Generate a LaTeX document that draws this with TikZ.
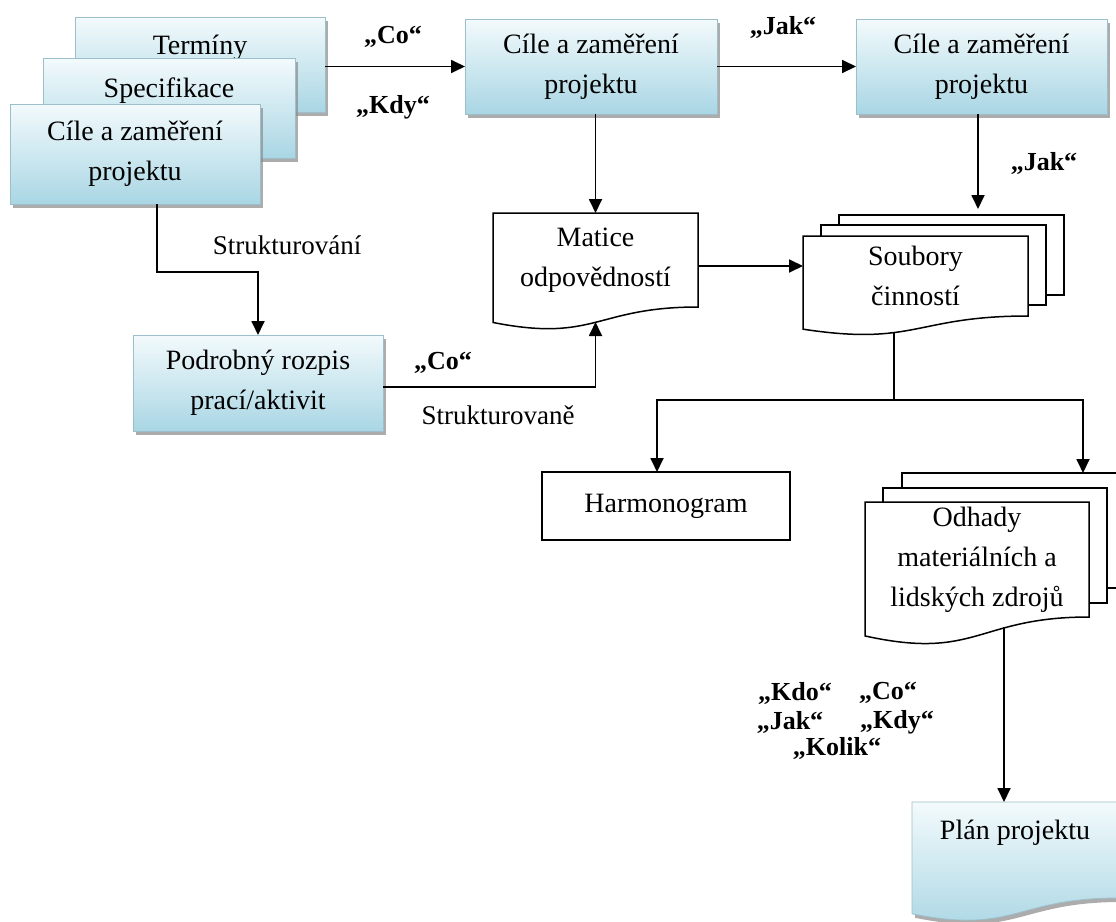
\documentclass[tikz,border=0pt]{standalone}
\usepackage{fontspec}
\setmainfont{Liberation Serif}
\usetikzlibrary{arrows.meta,calc,shadows}
\pgfdeclarelayer{bg}
\pgfsetlayers{bg,main}

\definecolor{gtop}{HTML}{F3FAFC}
\definecolor{gbot}{HTML}{A9D6E4}
\definecolor{gline}{HTML}{9DBFCB}
\definecolor{shad}{HTML}{8A8A8A}

\tikzset{
  every node/.style={inner sep=0pt, outer sep=0pt},
  txt/.style={font=\fontsize{28}{40}\selectfont, align=center},
  lbl/.style={font=\fontsize{27}{32}\selectfont},
  qlbl/.style={font=\fontsize{26}{32}\selectfont\bfseries},
  gshadow/.style={drop shadow={shadow xshift=3pt, shadow yshift=-4pt, fill=shad, opacity=0.7}},
  gbox/.style={txt, rectangle, draw=gline, line width=0.8pt, top color=gtop, bottom color=gbot, gshadow},
  wbox/.style={txt, rectangle, draw=black, line width=1.5pt, fill=white},
  sheet/.style={draw=black, line width=1.5pt, fill=white},
  frame/.style={txt, rectangle, draw=none},
  conn/.style={line width=1.8pt, draw=black},
  arr/.style={conn, -{Triangle[length=14pt, width=13pt]}},
}

\newcommand\docpath[2][]{\begin{pgfonlayer}{bg}\path[#1] (#2.north west) -- (#2.north east) -- (#2.south east) .. controls (#2.south) and ($(#2.north)!1.38!(#2.south)$) .. ($(#2.north west)!1.1646!(#2.south west)$) -- cycle;\end{pgfonlayer}}
\newcommand\sheetpath[1]{\begin{pgfonlayer}{bg}\path[sheet] (#1.north west) rectangle (#1.south east);\end{pgfonlayer}}

\begin{document}
\begin{tikzpicture}[x=1pt, y=-1pt]
\begin{pgfonlayer}{bg}
\fill[white] (0,0) rectangle (1116,921);
\end{pgfonlayer}
\useasboundingbox (0,0) rectangle (1116,921);

% stacked boxes top-left
\node[gbox, minimum width=250, minimum height=95] (term) at (200,64.5) {Termíny\\\mbox{}};
\node[gbox, minimum width=252, minimum height=100] (spec) at (169,108) {Specifikace\\\mbox{}};
\node[gbox, minimum width=250, minimum height=100] (cil1) at (135,154) {Cíle a zaměření\\projektu};

% top row
\node[gbox, minimum width=252, minimum height=95] (cil2) at (591,66.5) {Cíle a zaměření\\projektu};
\node[gbox, minimum width=251, minimum height=95] (cil3) at (981.5,66.5) {Cíle a zaměření\\projektu};

% Podrobny rozpis
\node[gbox, minimum width=250, minimum height=96] (podr) at (258,383) {Podrobný rozpis\\prací/aktivit};

% Matice (document)
\node[frame, minimum width=205, minimum height=94] (mat) at (595.5,260) {Matice\\odpovědností};
\docpath[sheet]{mat}

% Soubory (multi-document)
\node[frame, minimum width=225, minimum height=80] (soub3) at (951.5,255) {};
\node[frame, minimum width=225, minimum height=80] (soub2) at (933.5,265) {};
\node[frame, minimum width=225, minimum height=80] (soub) at (915.5,276) {Soubory\\činností};
\sheetpath{soub3}
\sheetpath{soub2}
\docpath[sheet]{soub}

% Harmonogram
\node[wbox, minimum width=248, minimum height=68] (harm) at (666,506) {Harmonogram};

% Odhady (multi-document)
\node[frame, minimum width=224, minimum height=115] (odh3) at (1014,530.5) {};
\node[frame, minimum width=224, minimum height=115] (odh2) at (995,545.5) {};
\node[frame, minimum width=224, minimum height=115] (odh) at (977,559.5) {Odhady\\materiálních a\\lidských zdrojů};
\sheetpath{odh3}
\sheetpath{odh2}
\docpath[sheet]{odh}

% Plan projektu (document, gradient)
\node[frame, minimum width=206, minimum height=96] (plan) at (1015,850) {Plán projektu\\\mbox{}};
\docpath[draw=gline, line width=0.8pt, top color=gtop, bottom color=gbot, gshadow]{plan}

% connector coordinates
\coordinate (cs) at ($(cil1.south)+(22,0)$);
\coordinate (matb) at ($(mat.south)+(0,15)$);
\coordinate (ms) at (698,266);
\coordinate (sb) at (894,332);
\coordinate (br) at (894,400);
\coordinate (harmin) at (657,472);
\coordinate (odhin) at (1083,473);
\coordinate (ob) at (1004,627);
\coordinate (c3) at (978,114);

% connectors
\draw[arr] (term.east |- cil2.west) -- (cil2.west);
\draw[arr] (cil2.east) -- (cil3.west);
\draw[arr] (cil2.south -| mat.north) -- (mat.north);
\draw[arr, shorten >=6pt] (c3) -- (c3 |- soub3.north);
\draw[arr] (ms) -- (ms -| soub.west);
\draw[arr] (cs) -- ++(0,68) -| (podr.north);
\draw[arr] (podr.east) ++(0,4) -| (matb);
\draw[conn] (sb) -- (br);
\draw[arr] (br) -| (harmin);
\draw[arr] (br) -| (odhin);
\draw[arr] (ob) -- (ob |- plan.north);

% labels
\node[qlbl] (l1) at (393,37) {„Co“};
\node[qlbl] (l2) at (393,107) {„Kdy“};
\node[qlbl] (l3) at (783,27) {„Jak“};
\node[qlbl] (l4) at (1044,163) {„Jak“};
\node[lbl] (l5) at (287,245) {Strukturování};
\node[qlbl] (l6) at (443,363) {„Co“};
\node[lbl] (l7) at (498,415) {Strukturovaně};
\node[qlbl] (l8) at (795,693) {„Kdo“};
\node[qlbl] (l9) at (888,693) {„Co“};
\node[qlbl] (l10) at (790,722) {„Jak“};
\node[qlbl] (l11) at (897,722) {„Kdy“};
\node[qlbl] (l12) at (837,748) {„Kolik“};
\end{tikzpicture}
\end{document}
